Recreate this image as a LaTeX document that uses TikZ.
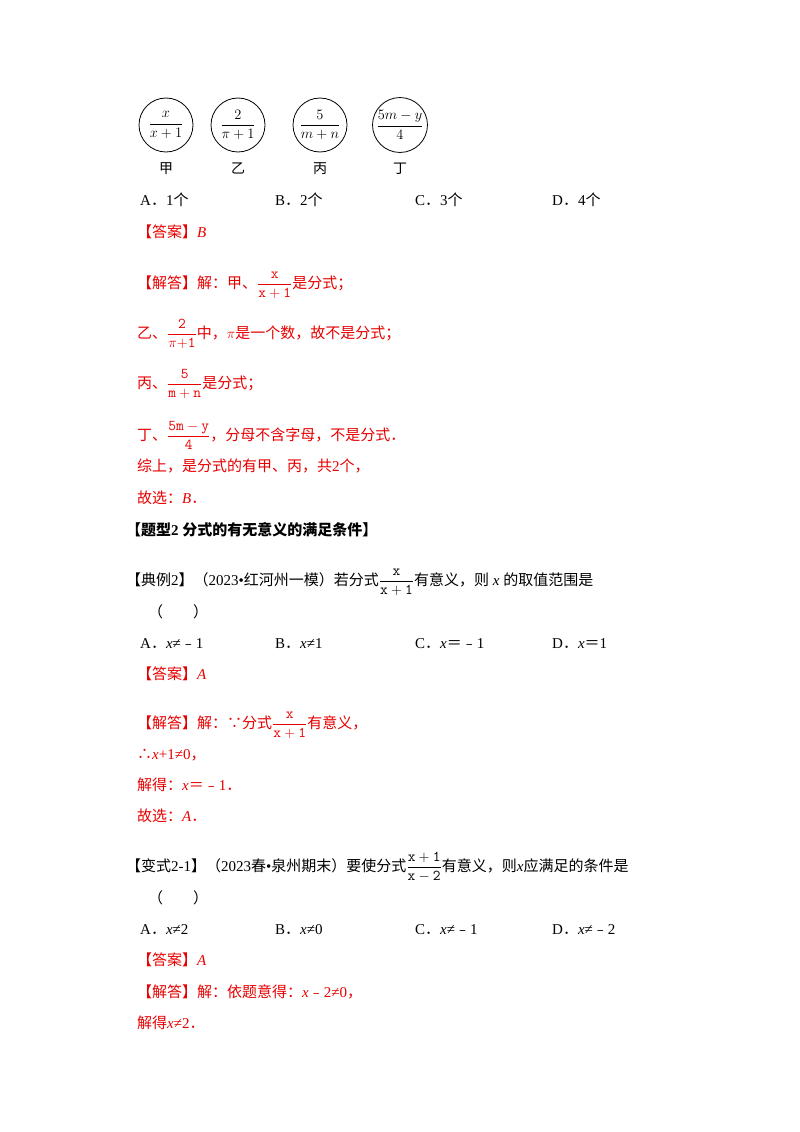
\documentclass[tikz,border=0pt]{standalone}
\usepackage{fontspec}
\usepackage{amsmath}
\setmainfont{Liberation Serif}
\newfontfamily\cjk{Noto Sans CJK SC}
\definecolor{ans}{RGB}{230,0,0}
\newcommand{\zh}[1]{{\cjk #1}}
\newcommand{\mi}{\zh{﹣}}
\newcommand{\pd}{\zh{．}}
\begin{document}
\begin{tikzpicture}[x=1pt,y=1pt,
  t/.style={anchor=base west,inner sep=0pt,font=\fontsize{15}{18}\selectfont},
  r/.style={t,text=ans},
  ci/.style={circle,draw,line width=0.8pt,minimum size=54pt,inner sep=0pt,font=\fontsize{14}{16}\selectfont},
  lab/.style={anchor=base,inner sep=0pt,font=\fontsize{14}{16}\selectfont}]
\useasboundingbox (0,0) rectangle (800,-1132);
\node[ci] (c1) at (166,-125) {$\dfrac{x}{x+1}$};
\node[ci] (c2) at (238,-125) {$\dfrac{2}{\pi+1}$};
\node[ci] (c3) at (320,-125) {$\dfrac{5}{m+n}$};
\node[ci] (c4) at (400,-125) {$\dfrac{5m-y}{4}$};
\node[lab] (l1) at (166,-173) {\zh{甲}};
\node[lab] (l2) at (238,-173) {\zh{乙}};
\node[lab] (l3) at (320,-173) {\zh{丙}};
\node[lab] (l4) at (400,-173) {\zh{丁}};
\node[t] (o1) at (140,-205) {A\pd 1\zh{个}};
\node[t] (o2) at (275,-205) {B\pd 2\zh{个}};
\node[t] (o3) at (415,-205) {C\pd 3\zh{个}};
\node[t] (o4) at (552,-205) {D\pd 4\zh{个}};
\node[r] (a1) at (137,-237) {\zh{【答案】}\textit{B}};
\node[r] (s1) at (137,-288) {\zh{【解答】解：甲、}$\dfrac{\mathtt{x}}{\mathtt{x+1}}$\zh{是分式；}};
\node[r] (s2) at (137,-338) {\zh{乙、}$\dfrac{\mathtt{2}}{\pi\mathtt{+1}}$\zh{中，}$\pi$\zh{是一个数，故不是分式；}};
\node[r] (s3) at (137,-388) {\zh{丙、}$\dfrac{\mathtt{5}}{\mathtt{m+n}}$\zh{是分式；}};
\node[r] (s4) at (137,-440) {\zh{丁、}$\dfrac{\mathtt{5m-y}}{\mathtt{4}}$\zh{，分母不含字母，不是分式．}};
\node[r] (s5) at (137,-471) {\zh{综上，是分式的有甲、丙，共}2\zh{个，}};
\node[r] (s6) at (137,-503) {\zh{故选：}\textit{B}\pd};
\node[t] (h2) at (126,-535) {\bfseries\zh{【题型}2 \zh{分式的有无意义的满足条件】}};
\node[t] (q2) at (126,-585) {\zh{【典例}2\zh{】（}2023•\zh{红河州一模）若分式}$\dfrac{\mathtt{x}}{\mathtt{x+1}}$\zh{有意义，则} \textit{x} \zh{的取值范围是}};
\node[t] (p2) at (148,-617) {\zh{（　　）}};
\node[t] (q2a) at (140,-648) {A\pd\textit{x}≠\mi1};
\node[t] (q2b) at (275,-648) {B\pd\textit{x}≠1};
\node[t] (q2c) at (415,-648) {C\pd\textit{x}\zh{＝}\mi1};
\node[t] (q2d) at (552,-648) {D\pd\textit{x}\zh{＝}1};
\node[r] (a2) at (137,-679) {\zh{【答案】}\textit{A}};
\node[r] (s21) at (137,-728) {\zh{【解答】解：∵分式}$\dfrac{\mathtt{x}}{\mathtt{x+1}}$\zh{有意义，}};
\node[r] (s22) at (137,-759) {\zh{∴}\textit{x}+1≠0\zh{，}};
\node[r] (s23) at (137,-790) {\zh{解得：}\textit{x}\zh{＝}\mi1\pd};
\node[r] (s24) at (137,-821) {\zh{故选：}\textit{A}\pd};
\node[t] (q3) at (126,-871) {\zh{【变式}2-1\zh{】（}2023\zh{春}•\zh{泉州期末）要使分式}$\dfrac{\mathtt{x+1}}{\mathtt{x-2}}$\zh{有意义，则}\textit{x}\zh{应满足的条件是}};
\node[t] (p3) at (148,-903) {\zh{（　　）}};
\node[t] (q3a) at (140,-934) {A\pd\textit{x}≠2};
\node[t] (q3b) at (275,-934) {B\pd\textit{x}≠0};
\node[t] (q3c) at (415,-934) {C\pd\textit{x}≠\mi1};
\node[t] (q3d) at (552,-934) {D\pd\textit{x}≠\mi2};
\node[r] (a3) at (137,-965) {\zh{【答案】}\textit{A}};
\node[r] (s31) at (137,-997) {\zh{【解答】解：依题意得：}\textit{x}\mi2≠0\zh{，}};
\node[r] (s32) at (137,-1028) {\zh{解得}\textit{x}≠2\pd};
\end{tikzpicture}
\end{document}
